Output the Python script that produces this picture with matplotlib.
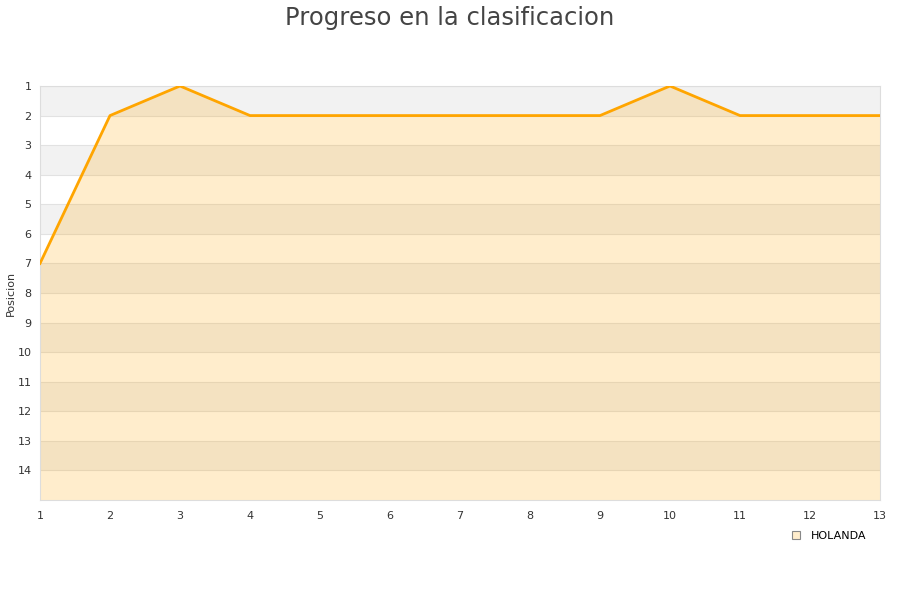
import matplotlib
matplotlib.use("Agg")
import matplotlib.pyplot as plt
from matplotlib.lines import Line2D

jornadas = list(range(1, 14))
posicion = [7, 2, 1, 2, 2, 2, 2, 2, 2, 1, 2, 2, 2]
equipo = "HOLANDA"
peor = 15

fig = plt.figure(figsize=(9, 6), dpi=100)
ax = fig.add_axes([40 / 900, 100 / 600, 840 / 900, 414 / 600])

# bandas alternas de fondo
for k in range(1, peor):
    if k % 2 == 1:
        ax.axhspan(k, k + 1, color="#f2f2f2", lw=0, zorder=0)
for k in range(1, peor):
    ax.axhline(k, color="#e2e2e2", lw=0.8, zorder=1)

ax.fill_between(jornadas, posicion, peor, color="#ffa500", alpha=0.2, lw=0, zorder=2)
ax.plot(jornadas, posicion, color="#ffa500", lw=2, zorder=3)

ax.set_xlim(1, 13)
ax.set_ylim(peor, 1)
ax.set_xticks(jornadas)
ax.set_yticks(range(1, peor))
ax.tick_params(axis="x", length=0, labelsize=8, colors="#333333", pad=8)
ax.tick_params(axis="y", length=0, labelsize=8, colors="#333333", pad=6)
for s in ax.spines.values():
    s.set_color("#dddddd")
ax.set_ylabel("Posicion", fontsize=8, color="#333333")
ax.yaxis.set_label_coords(-24 / 840, 0.5)

fig.suptitle("Progreso en la clasificacion", fontsize=17.5, color="#444444", y=0.99)

handle = Line2D([], [], marker="s", ls="", markersize=6,
                markerfacecolor="#ffedcc", markeredgecolor="#888888", markeredgewidth=0.8)
fig.legend([handle], [equipo], loc="center left", bbox_to_anchor=(775 / 900, 1 - 536 / 600),
           frameon=False, fontsize=8, handletextpad=0.3)

fig.savefig("out.png", dpi=100)
